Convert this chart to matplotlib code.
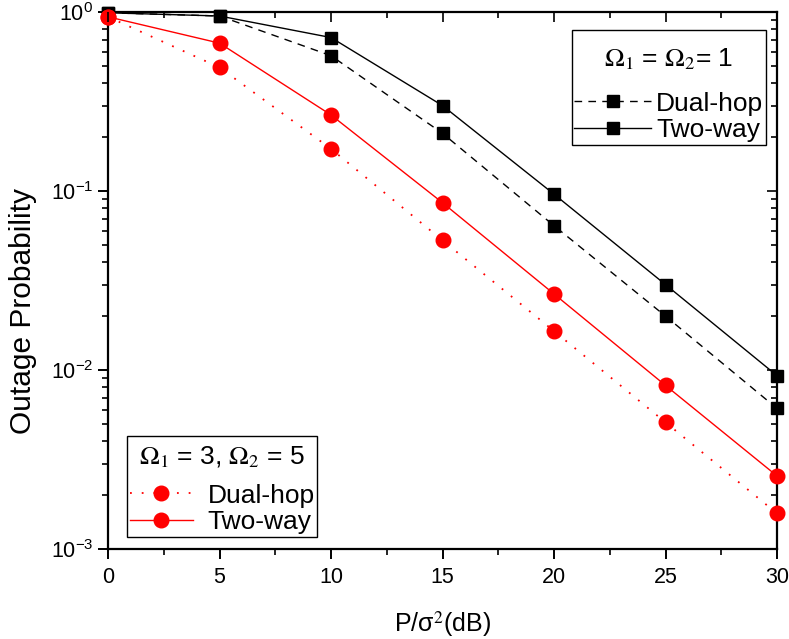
import matplotlib
matplotlib.use("Agg")
import matplotlib.pyplot as plt
from matplotlib.ticker import LogLocator, MultipleLocator, NullFormatter
from matplotlib.offsetbox import VPacker, DrawingArea

plt.rcParams['font.family'] = ['Liberation Sans', 'DejaVu Sans']
plt.rcParams['mathtext.fontset'] = 'stix'

snr_db = [0, 5, 10, 15, 20, 25, 30]
dual_hop_1 = [0.99, 0.95, 0.57, 0.21, 0.064, 0.020, 0.0061]
two_way_1 = [0.99, 0.95, 0.72, 0.30, 0.096, 0.030, 0.0093]
dual_hop_2 = [0.94, 0.49, 0.172, 0.053, 0.0165, 0.0051, 0.00158]
two_way_2 = [0.94, 0.67, 0.266, 0.086, 0.0266, 0.0082, 0.00256]

fig = plt.figure(figsize=(7.89, 6.39), dpi=100)
ax = fig.add_axes([108/789, 1 - 549/639, (777-108)/789, (549-12)/639])

l1, = ax.plot(snr_db, dual_hop_1, color='black', ls=(0, (5.5, 4.5)), lw=1.0,
              marker='s', ms=9, mec='black', mfc='black', label='Dual-hop', clip_on=False, zorder=3)
l2, = ax.plot(snr_db, two_way_1, color='black', ls='-', lw=1.0,
              marker='s', ms=9, mec='black', mfc='black', label='Two-way', clip_on=False, zorder=3)
l3, = ax.plot(snr_db, dual_hop_2, color='red', ls=(0, (1, 5.5)), lw=1.3,
              marker='o', ms=10.5, mec='red', mfc='red', label='Dual-hop', clip_on=False, zorder=4)
l4, = ax.plot(snr_db, two_way_2, color='red', ls='-', lw=1.0,
              marker='o', ms=10.5, mec='red', mfc='red', label='Two-way', clip_on=False, zorder=4)

ax.set_yscale('log')
ax.set_xlim(0, 30)
ax.set_ylim(1e-3, 1)
ax.xaxis.set_major_locator(MultipleLocator(5))
ax.xaxis.set_minor_locator(MultipleLocator(2.5))
ax.yaxis.set_major_locator(LogLocator(base=10, numticks=10))
ax.yaxis.set_minor_locator(LogLocator(base=10, subs=range(2, 10), numticks=20))
ax.yaxis.set_minor_formatter(NullFormatter())

for s in ax.spines.values():
    s.set_linewidth(1.6)

ax.tick_params(which='major', direction='out', length=7, width=1.4, labelsize=15.5,
               top=False, right=False)
ax.tick_params(which='minor', direction='out', length=4, width=1.2, top=False, right=False)
ax.tick_params(axis='x', which='major', pad=6)

axt = ax.twiny()
axt.set_xlim(ax.get_xlim())
axt.xaxis.set_major_locator(MultipleLocator(5))
axt.xaxis.set_minor_locator(MultipleLocator(2.5))
axt.tick_params(which='both', direction='in', labeltop=False, width=1.2)
axt.tick_params(which='major', length=7)
axt.tick_params(which='minor', length=4)
axr = ax.twinx()
axr.set_yscale('log')
axr.set_ylim(ax.get_ylim())
axr.yaxis.set_major_locator(LogLocator(base=10, numticks=10))
axr.yaxis.set_minor_locator(LogLocator(base=10, subs=range(2, 10), numticks=20))
axr.tick_params(which='both', direction='in', labelright=False, width=1.2)
axr.tick_params(which='major', length=7)
axr.tick_params(which='minor', length=4)
for a in (axt, axr):
    for s in a.spines.values():
        s.set_visible(False)

ax.set_xlabel(r'P/$\mathdefault{\sigma}^{2}$(dB)', fontsize=18)
ax.xaxis.set_label_coords(0.5, -(609 - 549) / 537)
ax.set_ylabel('Outage Probability', fontsize=21.5)
ax.yaxis.set_label_coords((37 - 108) / 669, (549 - 311) / 537)


def add_top_space(leg, pts):
    old = leg._legend_box._children[0]
    new = VPacker(pad=0, sep=0, align='center', children=[DrawingArea(1, pts), old])
    new.set_figure(fig)
    leg._legend_box._children[0] = new


leg1 = axr.legend([l1, l2], ['Dual-hop', 'Two-way'],
                  title=r'$\Omega_1$ = $\Omega_2$= 1', title_fontsize=19, fontsize=19,
                  loc='upper right', bbox_to_anchor=(766/789, 1 - 30/639),
                  bbox_transform=fig.transFigure, borderaxespad=0, fancybox=False,
                  edgecolor='black', framealpha=1, numpoints=1, handlelength=2.9,
                  handletextpad=0.2, labelspacing=0.1, borderpad=0.1)
leg1._legend_box.sep = 14
add_top_space(leg1, 10)
leg1.get_frame().set_linewidth(1.0)
axr.add_artist(leg1)
leg2 = axr.legend([l3, l4], ['Dual-hop', 'Two-way'],
                  title=r'$\Omega_1$ = 3, $\Omega_2$ = 5', title_fontsize=19, fontsize=19,
                  loc='lower left', bbox_to_anchor=(127/789, 1 - 537/639),
                  bbox_transform=fig.transFigure, borderaxespad=0, fancybox=False,
                  edgecolor='black', framealpha=1, numpoints=1, handlelength=2.4,
                  handletextpad=0.55, labelspacing=0.1, borderpad=0.1)
leg2._legend_box.sep = 10
add_top_space(leg2, 4)
leg2.get_frame().set_linewidth(1.0)

fig.savefig('out.png', dpi=100)
